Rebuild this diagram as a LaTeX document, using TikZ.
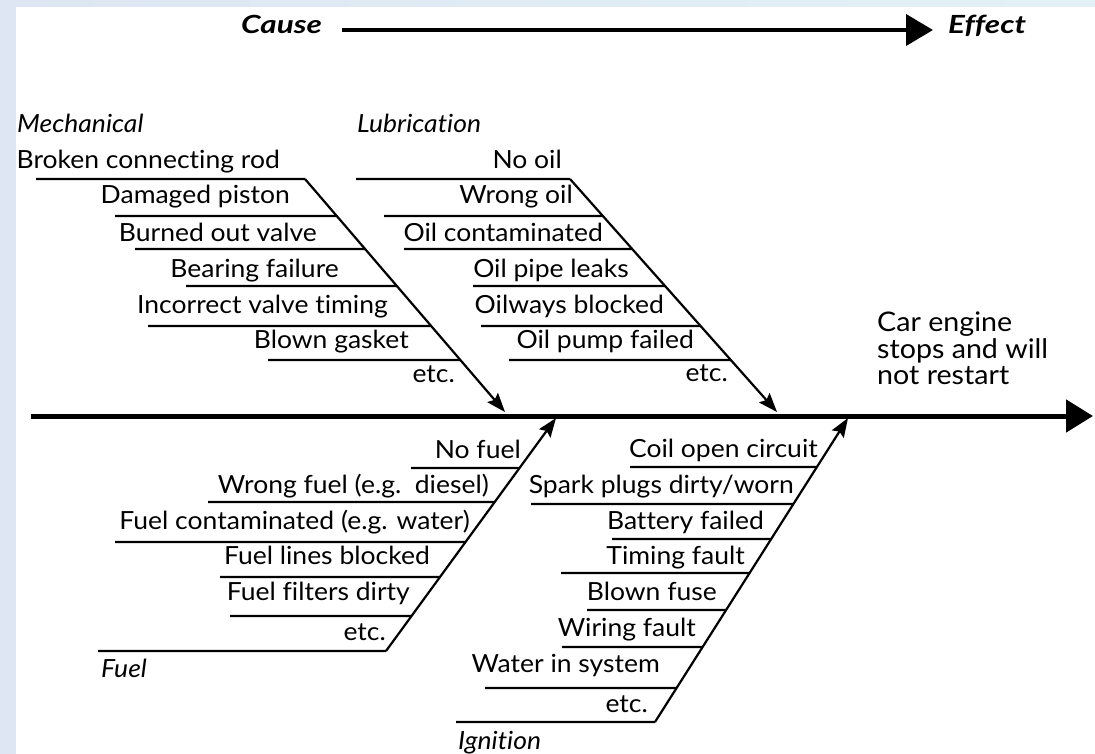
\documentclass[tikz,border=0pt]{standalone}
\usepackage{fontspec}
\setmainfont{Lato}[FakeStretch=1.06,Ligatures=NoCommon]
\newfontfamily\headfont{Lato}[FakeStretch=1.26,Ligatures=NoCommon]
\usetikzlibrary{arrows.meta}

% one cause line: horizontal from (#4,#5) to the branch (#1)--(#2)
\newcommand{\twig}[5]{%
  \coordinate (#3-l) at (#4,#5);
  \coordinate (#3-r) at (intersection cs: first line={(#1)--(#2)}, second line={(0,#5)--(100,#5)});
  \draw[twig] (#3-l) -- (#3-r);
}

\definecolor{wash}{HTML}{DDE6F2}
\definecolor{washtop}{HTML}{E3F1F6}

\begin{document}
\begin{tikzpicture}[x=1pt,y=-1pt,
  spine/.style={line width=5pt,-{Triangle[length=27pt,width=32pt]}},
  axis/.style={line width=4pt,-{Triangle[length=27pt,width=31pt]}},
  bone/.style={line width=2.2pt,-{Stealth[length=19pt,width=14pt,inset=3pt]}},
  twig/.style={line width=2.2pt},
  lbl/.style={inner sep=0pt,font=\fontsize{25}{28}\selectfont},
  cat/.style={inner sep=0pt,font=\fontsize{25}{28}\selectfont\itshape},
  head/.style={inner sep=0pt,font=\headfont\fontsize{25}{30}\selectfont\bfseries\itshape}]

\useasboundingbox (0,0) rectangle (1095,754);

% backdrop
\fill[wash] (0,0) rectangle (1095,754);
\shade[left color=wash,right color=washtop] (0,0) rectangle (1095,7);
\fill[white] (16,7) rectangle (1095,754);

% cause -> effect axis
\node[head,anchor=base west] (cause) at (241,34) {Cause};
\node[head,anchor=base west] (effect) at (948,34) {Effect};
\coordinate (axA) at (342,30);
\coordinate (axB) at (933,30);
\draw[axis] (axA) -- (axB);

% spine and effect
\coordinate (spA) at (31,416);
\coordinate (spB) at (1093,416);
\draw[spine] (spA) -- (spB);
\node[lbl,anchor=north west,align=left,font=\fontsize{27}{26.5}\selectfont] (result) at (877,312)
  {Car engine\\stops and will\\not restart};

% ---------------- Mechanical ----------------
\coordinate (mA) at (305,179);
\coordinate (mB) at (505,412);
\draw[bone] (mA) -- (mB);
\node[cat,anchor=base west] (mech) at (17,133) {Mechanical};
\twig{mA}{mB}{m1}{36}{179}
\twig{mA}{mB}{m2}{115}{216}
\twig{mA}{mB}{m3}{135}{249}
\twig{mA}{mB}{m4}{186}{286}
\twig{mA}{mB}{m5}{148}{326}
\twig{mA}{mB}{m6}{268}{360}
\node[lbl,anchor=base east] (mt1) at (280,169) {Broken connecting rod};
\node[lbl,anchor=base east] (mt2) at (290,204) {Damaged piston};
\node[lbl,anchor=base east] (mt3) at (317,241) {Burned out valve};
\node[lbl,anchor=base east] (mt4) at (339,277) {Bearing failure};
\node[lbl,anchor=base east] (mt5) at (388,313) {Incorrect valve timing};
\node[lbl,anchor=base east] (mt6) at (409,348) {Blown gasket};
\node[lbl,anchor=base east] (mt7) at (455,382) {etc.};

% ---------------- Lubrication ----------------
\coordinate (lA) at (570,179);
\coordinate (lB) at (777,412);
\draw[bone] (lA) -- (lB);
\node[cat,anchor=base west] (lube) at (357,133) {Lubrication};
\twig{lA}{lB}{l1}{356}{179}
\twig{lA}{lB}{l2}{384}{216}
\twig{lA}{lB}{l3}{404}{249}
\twig{lA}{lB}{l4}{473}{286}
\twig{lA}{lB}{l5}{481}{326}
\twig{lA}{lB}{l6}{509}{360}
\node[lbl,anchor=base east] (lt1) at (562,169) {No oil};
\node[lbl,anchor=base east] (lt2) at (573,204) {Wrong oil};
\node[lbl,anchor=base east] (lt3) at (603,241) {Oil contaminated};
\node[lbl,anchor=base east] (lt4) at (629,277) {Oil pipe leaks};
\node[lbl,anchor=base east] (lt5) at (664,313) {Oilways blocked};
\node[lbl,anchor=base east] (lt6) at (694,348) {Oil pump failed};
\node[lbl,anchor=base east] (lt7) at (728,381) {etc.};

% ---------------- Fuel ----------------
\coordinate (fA) at (386,651);
\coordinate (fB) at (556,418);
\draw[bone] (fA) -- (fB);
\node[cat,anchor=base west] (fuel) at (101,677) {Fuel};
\twig{fA}{fB}{f1}{411}{468}
\twig{fA}{fB}{f2}{208}{502}
\twig{fA}{fB}{f3}{115}{542}
\twig{fA}{fB}{f4}{220}{577}
\twig{fA}{fB}{f5}{230}{616}
\twig{fA}{fB}{f6}{98}{651}
\node[lbl,anchor=base east] (ft1) at (521,458) {No fuel};
\node[lbl,anchor=base east] (ft2) at (489,493) {Wrong fuel (e.g.\ \ diesel)};
\node[lbl,anchor=base east] (ft3) at (470,529) {Fuel contaminated (e.g. water)};
\node[lbl,anchor=base east] (ft4) at (430,564) {Fuel lines blocked};
\node[lbl,anchor=base east] (ft5) at (410,600) {Fuel filters dirty};
\node[lbl,anchor=base east] (ft6) at (386,640) {etc.};

% ---------------- Ignition ----------------
\coordinate (iA) at (655,722);
\coordinate (iB) at (848,418);
\draw[bone] (iA) -- (iB);
\node[cat,anchor=base west] (ign) at (458,749) {Ignition};
\twig{iA}{iB}{i1}{630}{467}
\twig{iA}{iB}{i2}{531}{504}
\twig{iA}{iB}{i3}{612}{539}
\twig{iA}{iB}{i4}{561}{573}
\twig{iA}{iB}{i5}{587}{610}
\twig{iA}{iB}{i6}{562}{647}
\twig{iA}{iB}{i7}{485}{688}
\twig{iA}{iB}{i8}{456}{722}
\node[lbl,anchor=base east] (it1) at (818,457) {Coil open circuit};
\node[lbl,anchor=base east] (it2) at (794,493) {Spark plugs dirty/worn};
\node[lbl,anchor=base east] (it3) at (764,529) {Battery failed};
\node[lbl,anchor=base east] (it4) at (745,564) {Timing fault};
\node[lbl,anchor=base east] (it5) at (717,600) {Blown fuse};
\node[lbl,anchor=base east] (it6) at (696,636) {Wiring fault};
\node[lbl,anchor=base east] (it7) at (660,672) {Water in system};
\node[lbl,anchor=base east] (it8) at (648,712) {etc.};

\end{tikzpicture}
\end{document}
